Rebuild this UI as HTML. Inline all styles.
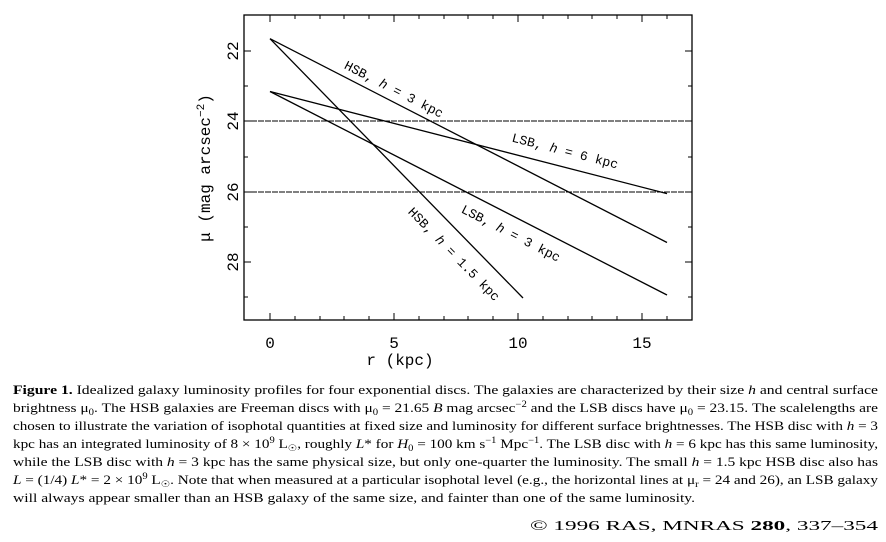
<!DOCTYPE html>
<html><head><meta charset="utf-8"><style>
html,body{margin:0;padding:0;background:#fff;width:886px;height:542px;overflow:hidden}
svg{display:block}
</style></head><body>
<svg width="886" height="542" xmlns="http://www.w3.org/2000/svg" font-family="'Liberation Serif', serif">
<rect width="886" height="542" fill="#fff"/>
<rect x="244" y="15" width="448" height="305" fill="none" stroke="#000" stroke-width="1.3"/>
<g stroke="#000" stroke-width="1">
<path d="M270,320v-7M394,320v-7M518,320v-7M642,320v-7M270,15v7M394,15v7M518,15v7M642,15v7"/>
<path d="M295,320v-4M320,320v-4M344,320v-4M369,320v-4M419,320v-4M444,320v-4M468,320v-4M493,320v-4M543,320v-4M568,320v-4M592,320v-4M617,320v-4M667,320v-4
M295,15v4M320,15v4M344,15v4M369,15v4M419,15v4M444,15v4M468,15v4M493,15v4M543,15v4M568,15v4M592,15v4M617,15v4M667,15v4"/>
<path d="M244,51h7M244,121h7M244,192h7M244,262h7M692,51h-7M692,121h-7M692,192h-7M692,262h-7"/>
<path d="M244,86h4M244,157h4M244,227h4M244,297h4M692,86h-4M692,157h-4M692,227h-4M692,297h-4"/>
</g>
<g stroke="#000" stroke-width="0.9" stroke-dasharray="6,1">
<line x1="244" y1="121" x2="692" y2="121"/>
<line x1="244" y1="192" x2="692" y2="192"/>
</g>
<g stroke="#000" stroke-width="1.3" fill="none">
<line x1="270" y1="38.7" x2="667" y2="242.5"/>
<line x1="270" y1="38.7" x2="523" y2="298"/>
<line x1="270" y1="91.5" x2="667" y2="193.6"/>
<line x1="270" y1="91.5" x2="667" y2="295"/>
</g>
<g font-size="13" fill="#000" font-family="'Liberation Mono', monospace">
<text transform="translate(392,93) rotate(27.2)" text-anchor="middle">HSB, <tspan font-style="italic">h</tspan> = 3 kpc</text>
<text transform="translate(564,155) rotate(14.4)" text-anchor="middle">LSB, <tspan font-style="italic">h</tspan> = 6 kpc</text>
<text transform="translate(509,237) rotate(27.2)" text-anchor="middle">LSB, <tspan font-style="italic">h</tspan> = 3 kpc</text>
<text transform="translate(451,257) rotate(45.7)" text-anchor="middle">HSB, <tspan font-style="italic">h</tspan> = 1.5 kpc</text>
</g>
<g font-size="16" fill="#000" font-family="'Liberation Mono', monospace" text-anchor="middle">
<text x="270" y="348">0</text><text x="394" y="348">5</text><text x="518" y="348">10</text><text x="642" y="348">15</text>
<text x="400" y="365">r (kpc)</text>
<text transform="translate(238,51) rotate(-90)">22</text>
<text transform="translate(238,121) rotate(-90)">24</text>
<text transform="translate(238,192) rotate(-90)">26</text>
<text transform="translate(238,262) rotate(-90)">28</text>
<text transform="translate(210,168) rotate(-90)">μ (mag arcsec<tspan font-size="11" dy="-6">−2</tspan><tspan dy="6">)</tspan></text>
</g>
<g font-size="13" fill="#000">
<text x="13" y="394" textLength="865" lengthAdjust="spacingAndGlyphs"><tspan font-weight="bold">Figure 1.</tspan> Idealized galaxy luminosity profiles for four exponential discs. The galaxies are characterized by their size <tspan font-style="italic">h</tspan> and central surface</text>
<text x="13" y="412" textLength="865" lengthAdjust="spacingAndGlyphs">brightness μ<tspan font-size="9" dy="3">0</tspan><tspan dy="-3">. The HSB galaxies are Freeman discs with μ</tspan><tspan font-size="9" dy="3">0</tspan><tspan dy="-3"> = 21.65 </tspan><tspan font-style="italic">B</tspan> mag arcsec<tspan font-size="9" dy="-5">−2</tspan><tspan dy="5"> and the LSB discs have μ</tspan><tspan font-size="9" dy="3">0</tspan><tspan dy="-3"> = 23.15. The scalelengths are</tspan></text>
<text x="13" y="430" textLength="865" lengthAdjust="spacingAndGlyphs">chosen to illustrate the variation of isophotal quantities at fixed size and luminosity for different surface brightnesses. The HSB disc with <tspan font-style="italic">h</tspan> = 3</text>
<text x="13" y="448" textLength="865" lengthAdjust="spacingAndGlyphs">kpc has an integrated luminosity of 8 × 10<tspan font-size="9" dy="-5">9</tspan><tspan dy="5"> L</tspan><tspan font-size="9" dy="3">☉</tspan><tspan dy="-3">, roughly </tspan><tspan font-style="italic">L</tspan>* for <tspan font-style="italic">H</tspan><tspan font-size="9" dy="3">0</tspan><tspan dy="-3"> = 100 km s</tspan><tspan font-size="9" dy="-5">−1</tspan><tspan dy="5"> Mpc</tspan><tspan font-size="9" dy="-5">−1</tspan><tspan dy="5">. The LSB disc with </tspan><tspan font-style="italic">h</tspan> = 6 kpc has this same luminosity,</text>
<text x="13" y="466" textLength="865" lengthAdjust="spacingAndGlyphs">while the LSB disc with <tspan font-style="italic">h</tspan> = 3 kpc has the same physical size, but only one-quarter the luminosity. The small <tspan font-style="italic">h</tspan> = 1.5 kpc HSB disc also has</text>
<text x="13" y="484" textLength="865" lengthAdjust="spacingAndGlyphs"><tspan font-style="italic">L</tspan> = (1/4) <tspan font-style="italic">L</tspan>* = 2 × 10<tspan font-size="9" dy="-5">9</tspan><tspan dy="5"> L</tspan><tspan font-size="9" dy="3">☉</tspan><tspan dy="-3">. Note that when measured at a particular isophotal level (e.g., the horizontal lines at μ</tspan><tspan font-size="9" dy="3">r</tspan><tspan dy="-3"> = 24 and 26), an LSB galaxy</tspan></text>
<text x="13" y="502" textLength="682" lengthAdjust="spacingAndGlyphs">will always appear smaller than an HSB galaxy of the same size, and fainter than one of the same luminosity.</text>
<text x="878" y="530" text-anchor="end" font-size="14" font-family="'Liberation Serif', serif" textLength="348" lengthAdjust="spacingAndGlyphs">© 1996 RAS, MNRAS <tspan font-weight="bold">280</tspan>, 337–354</text>
</g>
</svg>
</body></html>
